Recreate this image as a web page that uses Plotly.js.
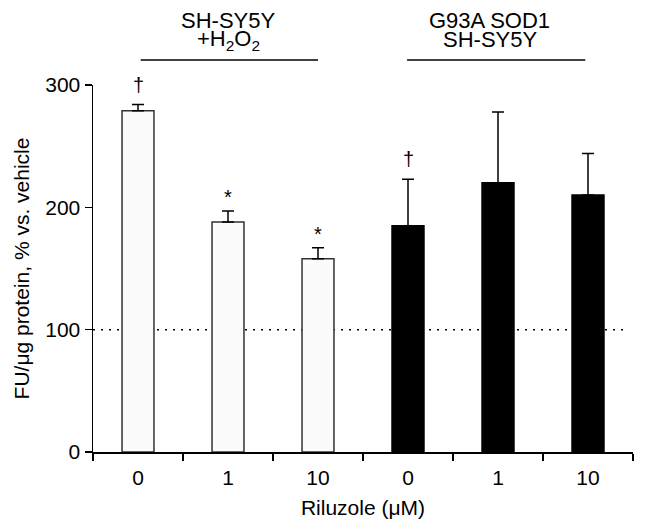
<!DOCTYPE html>
<html>
<head>
<meta charset="utf-8">
<script src="https://cdn.plot.ly/plotly-3.0.1.min.js"></script>
<style>
  body { margin: 0; background: #fff; }
  #chart { width: 646px; height: 531px; }
</style>
</head>
<body>
<div id="chart"></div>
<script>
// data
var barKeys = ["H2O2 0", "H2O2 1", "H2O2 10", "G93A 0", "G93A 1", "G93A 10"];
var doseLabels = ["0", "1", "10", "0", "1", "10"];
var meanValues = [279, 188, 158, 185, 220, 210];
var semValues = [5, 9, 9, 38, 58, 34];
var marks = ["†", "*", "*", "†", "", ""];
var groupNames = [["SH-SY5Y", "+H<sub>2</sub>O<sub>2</sub>"], ["G93A SOD1", "SH-SY5Y"]];

var fontFam = "Liberation Sans, Arial, sans-serif";
var fs = 21;

// first three bars white, last three black
var fillColors = meanValues.map((v, i) => i < 3 ? "#fbfbfb" : "#000000");
var edgeColors = meanValues.map((v, i) => i < 3 ? "#333333" : "#000000");

var trace = {
  x: barKeys,
  y: meanValues,
  type: "bar",
  width: 0.355,
  marker: {color: fillColors, line: {color: edgeColors, width: 1.5}},
  error_y: {
    type: "data",
    symmetric: false,
    array: semValues,
    arrayminus: semValues.map(() => 0),
    color: "#000",
    thickness: 1.5,
    width: 6
  },
  hoverinfo: "none"
};

var data = [trace];

// significance marks above the error bars
var annotations = [];
marks.forEach((m, i) => {
  if (!m) return;
  annotations.push({
    x: barKeys[i], y: meanValues[i] + semValues[i],
    xref: "x", yref: "y",
    text: m, showarrow: false,
    yanchor: "bottom",
    yshift: m == "*" ? 1 : 7,
    font: {family: fontFam, size: 20, color: "#000"}
  });
});

// group labels over the two sets of bars
var groupX = [1, 3.91];
var groupLine = [[0.03, 2.0], [2.99, 4.97]];
var shapes = [];
groupNames.forEach((g, k) => {
  annotations.push({
    x: groupX[k], y: 1.175, xref: "x", yref: "paper",
    text: g[0], showarrow: false, yanchor: "middle",
    font: {family: fontFam, size: 22, color: "#000"}
  });
  annotations.push({
    x: groupX[k], y: 1.123, xref: "x", yref: "paper",
    text: g[1], showarrow: false, yanchor: "middle",
    font: {family: fontFam, size: 22, color: "#000"}
  });
  shapes.push({
    type: "line", xref: "x", yref: "paper",
    x0: groupLine[k][0], x1: groupLine[k][1], y0: 1.068, y1: 1.068,
    line: {color: "#000", width: 1.5}
  });
});

// vehicle level
shapes.push({
  type: "line", xref: "paper", yref: "y",
  x0: 0, x1: 0.99, y0: 100, y1: 100,
  layer: "below",
  line: {color: "#000", width: 1.5, dash: "2px,6px"}
});

var layout = {
  width: 646,
  height: 531,
  margin: {l: 93, r: 13, t: 85, b: 78.5},
  paper_bgcolor: "#fff",
  plot_bgcolor: "#fff",
  showlegend: false,
  font: {family: fontFam, size: fs, color: "#000"},
  xaxis: {
    type: "category",
    tickmode: "array",
    tickvals: barKeys,
    ticktext: doseLabels,
    tickson: "boundaries",
    ticks: "outside",
    ticklen: 7,
    tickwidth: 1.5,
    tickcolor: "#000",
    ticklabelstandoff: 6,
    showline: true,
    linecolor: "#000",
    linewidth: 1.5,
    showgrid: false,
    zeroline: false,
    tickfont: {family: fontFam, size: fs},
    title: {text: "Riluzole (μM)", font: {family: fontFam, size: fs}, standoff: 12}
  },
  yaxis: {
    range: [0, 300],
    tickvals: [0, 100, 200, 300],
    ticks: "outside",
    ticklen: 7,
    tickwidth: 1.5,
    tickcolor: "#000",
    showline: true,
    linecolor: "#000",
    linewidth: 1.5,
    showgrid: false,
    zeroline: false,
    tickfont: {family: fontFam, size: fs},
    title: {text: "FU/μg protein, % vs. vehicle", font: {family: fontFam, size: fs}, standoff: 10}
  },
  annotations: annotations,
  shapes: shapes
};

Plotly.newPlot("chart", data, layout, {staticPlot: true});
</script>
</body>
</html>
